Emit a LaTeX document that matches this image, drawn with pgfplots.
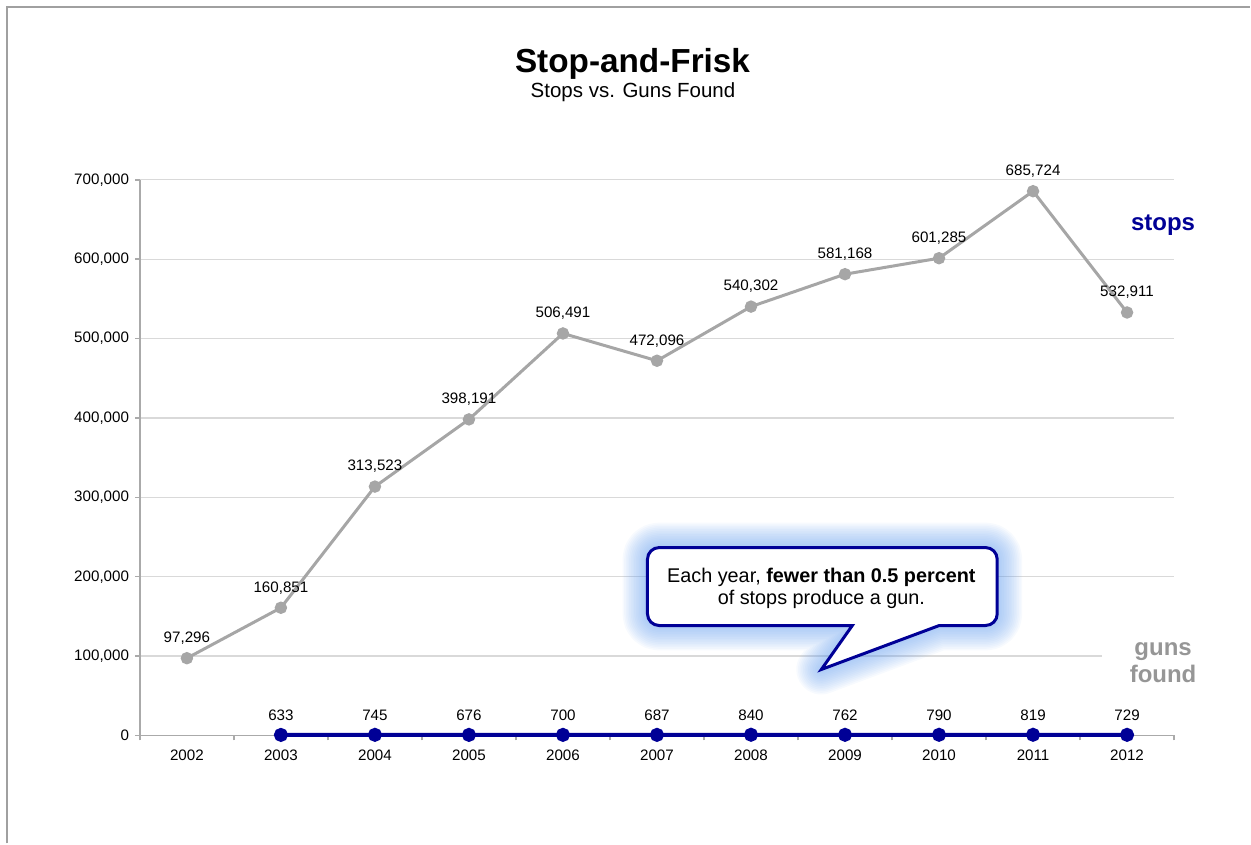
\documentclass[border=0pt]{standalone}
\usepackage{fontspec}
\setmainfont{Liberation Sans}
\usepackage{pgfplots}
\pgfplotsset{compat=1.18}
\definecolor{stopgray}{RGB}{166,166,166}
\definecolor{gunblue}{RGB}{0,0,150}
\definecolor{gridc}{RGB}{217,217,217}
\definecolor{axc}{RGB}{170,170,170}
\definecolor{glowc}{RGB}{120,170,240}
\definecolor{framec}{RGB}{160,160,160}
\definecolor{gunslbl}{RGB}{150,150,150}

\pgfplotstableread{
x y label
0 97296 97,296
1 160851 160,851
2 313523 313,523
3 398191 398,191
4 506491 506,491
5 472096 472,096
6 540302 540,302
7 581168 581,168
8 601285 601,285
9 685724 685,724
10 532911 532,911
}\stopsdata
\pgfplotstableread{
x y label
1 633 633
2 745 745
3 676 676
4 700 700
5 687 687
6 840 840
7 762 762
8 790 790
9 819 819
10 729 729
}\gunsdata

\def\calloutpath{(511.8pt,130.8pt) -- (493.2pt,104.4pt) -- (564pt,130.8pt) [rounded corners=7pt] -- (598.8pt,130.8pt) -- (598.8pt,177.6pt) -- (388.8pt,177.6pt) -- (388.8pt,130.8pt) [sharp corners] -- cycle}

\begin{document}
\begin{tikzpicture}
\path (0pt,0pt) rectangle (750.6pt,506.4pt);
\draw[framec, line width=1.2pt] (4.2pt,0pt) -- (4.2pt,502.2pt) -- (750.6pt,502.2pt);

\begin{axis}[
  set layers,
  scale only axis, width=621pt, height=333.6pt,
  at={(84pt,64.8pt)}, anchor=south west,
  xmin=-0.5, xmax=10.5, ymin=0, ymax=700000,
  axis x line*=bottom, axis y line*=left,
  axis line style={axc, line width=0.9pt},
  xtick={0,...,10},
  xticklabels={2002,2003,2004,2005,2006,2007,2008,2009,2010,2011,2012},
  minor xtick={-0.5,0.5,...,10.5},
  ytick={0,100000,200000,300000,400000,500000,600000,700000},
  minor ytick={0,100000,200000,300000,400000,500000,600000,700000},
  major tick length=0pt,
  minor tick length=3pt,
  tick align=outside,
  tick style={axc, line width=0.9pt},
  ymajorgrids, grid style={gridc, line width=0.7pt},
  scaled y ticks=false,
  yticklabel style={/pgf/number format/fixed, /pgf/number format/1000 sep={,}, xshift=-3pt},
  xticklabel style={yshift=-5.4pt},
  /pgf/number format/assume math mode=true,
  tick label style={font=\fontsize{9.1}{11}\selectfont, black},
  clip=false,
]
\addplot[stopgray, line width=1.8pt, mark=*, mark size=2.8pt,
  mark options={fill=stopgray, draw=stopgray},
  nodes near coords, point meta=explicit symbolic,
  every node near coord/.append style={font=\fontsize{9.1}{11}\selectfont, black, yshift=4pt}]
  table[x=x, y=y, meta=label]{\stopsdata};
\addplot[gunblue, line width=2.4pt, mark=*, mark size=3pt,
  mark options={fill=gunblue, draw=gunblue},
  nodes near coords, point meta=explicit symbolic,
  every node near coord/.append style={font=\fontsize{9.1}{11}\selectfont, black, yshift=4pt}]
  table[x=x, y=y, meta=label]{\gunsdata};
\end{axis}

\node[anchor=base, font=\fontsize{20}{24}\selectfont\bfseries] at (379.8pt,462.6pt) {Stop-and-Frisk};
\node[anchor=base, font=\fontsize{12.3}{14}\selectfont] at (380.1pt,447.6pt) {Stops vs. Guns Found};

\node[anchor=base, font=\fontsize{14.4}{16}\selectfont\bfseries, text=gunblue] at (698.4pt,367.8pt) {stops};
\fill[white] (662pt,93pt) rectangle (735pt,117pt);
\node[anchor=base, font=\fontsize{14.4}{16}\selectfont\bfseries, text=gunslbl] at (698.4pt,112.8pt) {guns};
\node[anchor=base, font=\fontsize{14.4}{16}\selectfont\bfseries, text=gunslbl] at (698.4pt,96.6pt) {found};

\foreach \w in {2,4,...,30} {
  \draw[glowc, line width=\w pt, opacity=0.06, line join=round] \calloutpath;
}
\draw[fill=white, draw=gunblue, line width=1.8pt, line join=miter] \calloutpath;
\node[anchor=base, font=\fontsize{11.9}{14}\selectfont] at (493.2pt,156.6pt) {Each year, \textbf{fewer than 0.5 percent}};
\node[anchor=base, font=\fontsize{11.9}{14}\selectfont] at (493.2pt,143.4pt) {of stops produce a gun.};
\end{tikzpicture}
\end{document}
